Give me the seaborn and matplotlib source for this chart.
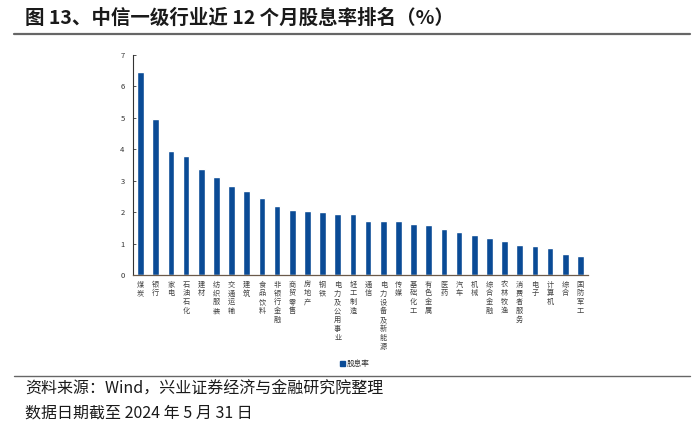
import matplotlib
matplotlib.use("Agg")
import matplotlib.pyplot as plt
import seaborn as sns
import pandas as pd
from matplotlib.patches import Patch
from matplotlib.lines import Line2D

sns.set_theme(style="white")
plt.rcParams['font.family'] = ['Noto Sans CJK SC', 'DejaVu Sans']
plt.rcParams['axes.unicode_minus'] = False

industries = ["煤炭", "银行", "家电", "石油石化", "建材", "纺织服装", "交通运输", "建筑",
              "食品饮料", "非银行金融", "商贸零售", "房地产", "钢铁", "电力及公用事业",
              "轻工制造", "通信", "电力设备及新能源", "传媒", "基础化工", "有色金属", "医药",
              "汽车", "机械", "综合金融", "农林牧渔", "消费者服务", "电子", "计算机", "综合",
              "国防军工"]
dividend_yield = [6.46, 4.96, 3.95, 3.78, 3.36, 3.13, 2.82, 2.67,
                  2.46, 2.18, 2.06, 2.05, 2.00, 1.94,
                  1.93, 1.73, 1.71, 1.71, 1.62, 1.60, 1.46,
                  1.36, 1.26, 1.17, 1.08, 0.96, 0.92, 0.87, 0.67,
                  0.60]
y_ticks = [0, 1, 2, 3, 4, 5, 6, 7]
series_name = "股息率"
title = "图 13、中信一级行业近 12 个月股息率排名（%）"
source1 = "资料来源：Wind，兴业证券经济与金融研究院整理"
source2 = "数据日期截至 2024 年 5 月 31 日"

bar_color = "#0A4B96"

df = pd.DataFrame({"行业": industries, "值": dividend_yield})

fig = plt.figure(figsize=(7.0, 4.29), dpi=100)
ax = fig.add_axes([0.19, 0.359, 0.65, 0.513])

sns.barplot(data=df, x="行业", y="值", color=bar_color, width=0.45,
            saturation=1, ax=ax)

ax.set_ylim(0, 7)
ax.set_yticks(y_ticks)
ax.set_yticklabels([str(t) for t in y_ticks], fontsize=5.5, color="#333333")
ax.set_xlim(-0.5, len(industries) - 0.5)
ax.set_xticks(range(len(industries)))
ax.set_xticklabels(["\n".join(list(s)) for s in industries], fontsize=5.2,
                   color="#444444", linespacing=1.15, va="top")
ax.tick_params(axis="x", length=0, pad=4)
ax.tick_params(axis="y", direction="in", length=2.5, width=0.6, pad=6, left=True,
               color="#333333")
ax.set_xlabel("")
ax.set_ylabel("")
for s in ["top", "right"]:
    ax.spines[s].set_visible(False)
ax.spines["left"].set_color("#333333")
ax.spines["left"].set_linewidth(0.8)
ax.spines["bottom"].set_color("#6b5a4a")
ax.spines["bottom"].set_linewidth(0.9)
ax.grid(False)

handles = [Patch(facecolor=bar_color, edgecolor=bar_color, label=series_name)]
fig.legend(handles=handles, loc="center", bbox_to_anchor=(0.507, 0.151),
           frameon=False, fontsize=5.5, handlelength=0.6, handleheight=0.6,
           handletextpad=0.3, labelcolor="#333333")

# Title and rules
fig.text(0.036, 0.958, title, fontsize=14, fontweight="bold", color="#1a1a1a",
         va="center", ha="left")
fig.add_artist(Line2D([0.02, 0.985], [0.921, 0.921], transform=fig.transFigure,
                      color="#666666", linewidth=1.6))
fig.add_artist(Line2D([0.02, 0.985], [0.124, 0.124], transform=fig.transFigure,
                      color="#666666", linewidth=1.0))
fig.text(0.036, 0.093, source1, fontsize=11.5, color="#1a1a1a", va="center", ha="left")
fig.text(0.036, 0.037, source2, fontsize=11.5, color="#1a1a1a", va="center", ha="left")

fig.savefig("out.png", dpi=100)
